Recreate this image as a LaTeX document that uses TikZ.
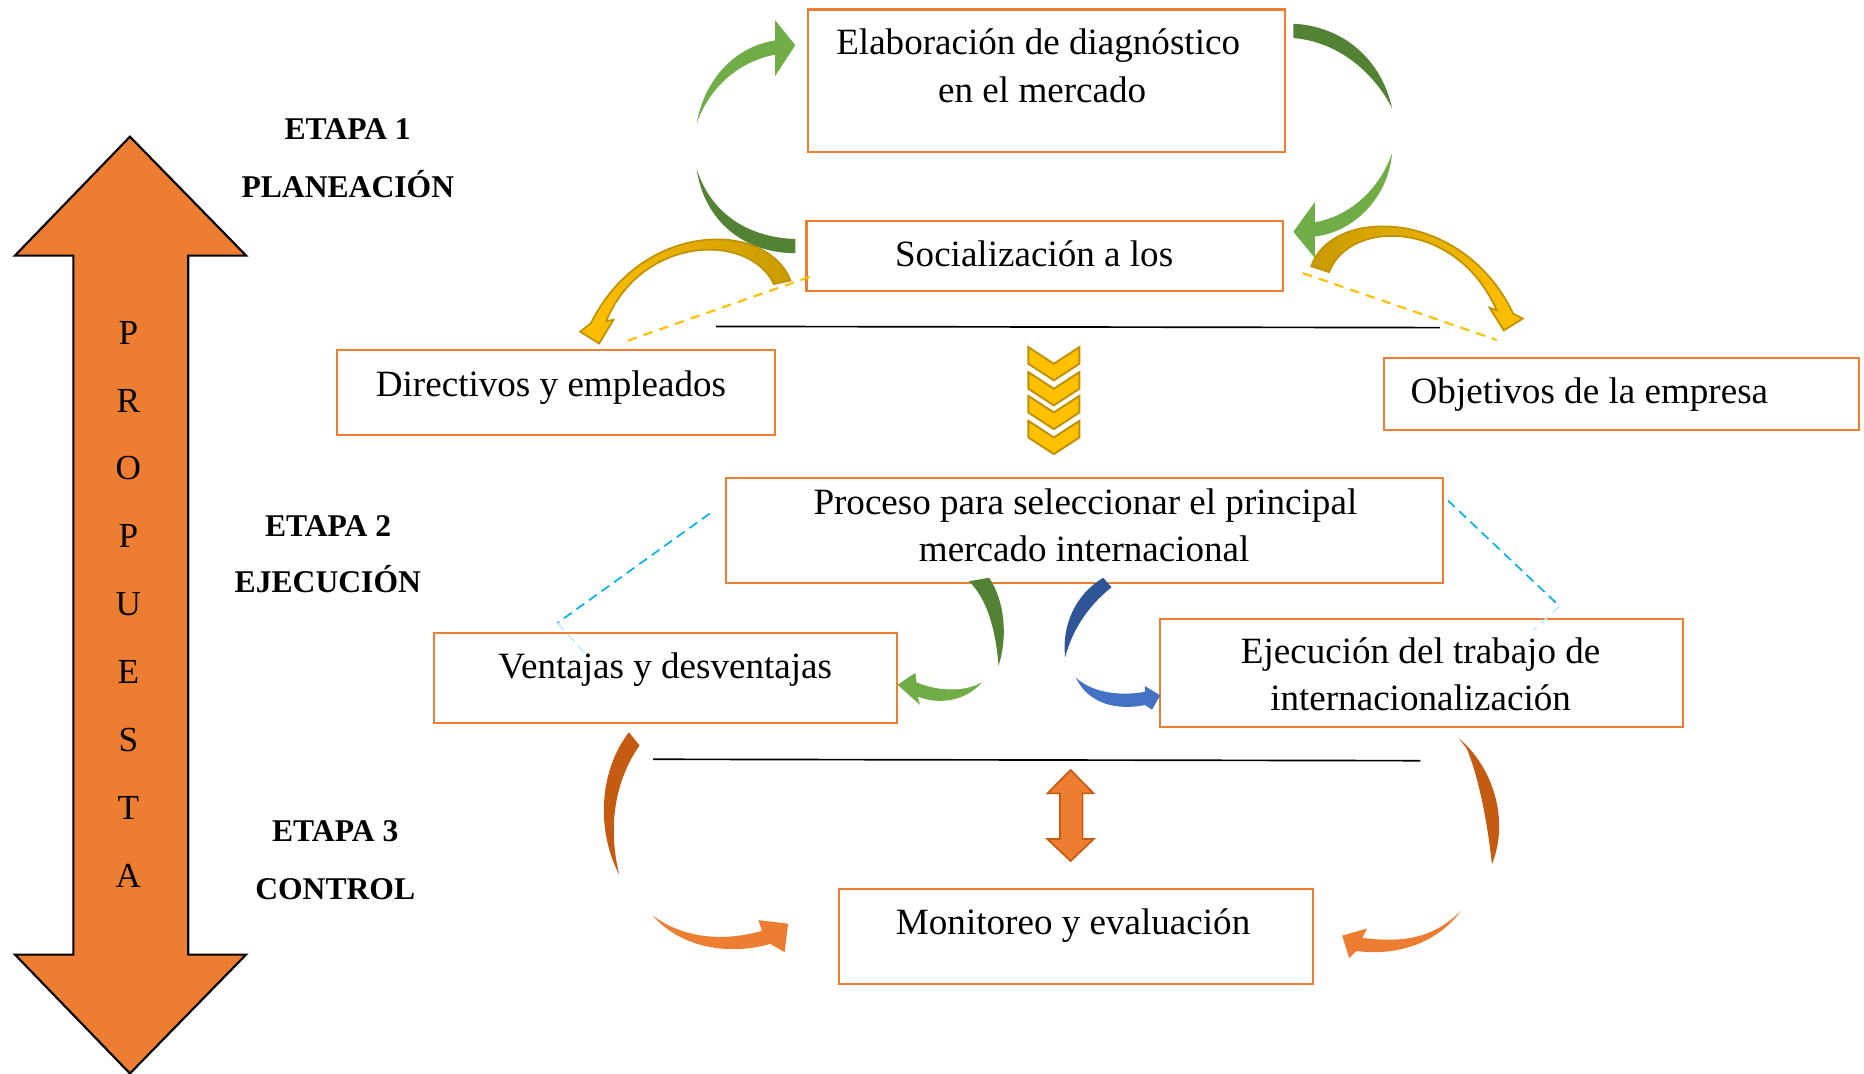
\documentclass[tikz,border=0pt]{standalone}
\usepackage{fontspec}
\setmainfont{Liberation Serif}
\usetikzlibrary{fit}
\definecolor{orB}{HTML}{ED7D31}
\definecolor{dgreen}{HTML}{548235}
\definecolor{lgreen}{HTML}{70AD47}
\definecolor{gold}{HTML}{FFC000}
\definecolor{dgold}{HTML}{BF9000}
\definecolor{mgold}{HTML}{C99A00}
\definecolor{blueD}{HTML}{2F5597}
\definecolor{blueL}{HTML}{4472C4}
\definecolor{brownO}{HTML}{C55A11}
\definecolor{cyanL}{HTML}{00B0F0}
\definecolor{cyanF}{HTML}{C5ECFA}
\begin{document}
\begin{tikzpicture}[x=0.5pt,y=-0.5pt,
 box/.style={draw=orB,line width=0.9pt,inner sep=0pt},
 txt/.style={font=\fontsize{15.6}{20}\selectfont,inner sep=0pt,anchor=base},
 stage/.style={font=\fontsize{13.3}{16}\selectfont\bfseries,inner sep=0pt,anchor=base},
 letter/.style={font=\fontsize{14.8}{16}\selectfont,inner sep=0pt,anchor=base},
 ydash/.style={draw=gold,line width=0.9pt,dash pattern=on 4pt off 3pt},
 cdash/.style={draw=cyanL,line width=0.7pt,dash pattern=on 4pt off 2.5pt},
 cfade/.style={draw=cyanF,line width=0.7pt,dash pattern=on 4pt off 2.5pt},
 hline/.style={draw=black,line width=0.7pt},
 chev/.style={fill=gold,draw=dgold,line width=0.8pt},
 ggold/.style={draw=dgold,line width=0.7pt},
]
\useasboundingbox (0,0) rectangle (1568,903);

% big double arrow PROPUESTA
\filldraw[fill=orB,draw=black,line width=0.9pt] (109.3,115) -- (207,215) -- (158.4,215) -- (158.4,803) -- (207,803) -- (109.3,903) -- (12.6,803) -- (61.7,803) -- (61.7,215) -- (12.6,215) -- cycle;
\foreach \l [count=\i from 0] in {P,R,O,P,U,E,S,T,A}
  \node[letter] (let\i) at (108,{289.5+57.1*\i}) {\l};

% stage labels
\node[stage] (e1) at (292.5,117.5) {ETAPA 1};
\node[stage] (e1b) at (292.6,166.3) {PLANEACIÓN};
\node[stage] (e2) at (276,451.3) {ETAPA 2};
\node[stage] (e2b) at (275.8,498.8) {EJECUCIÓN};
\node[stage] (e3) at (282,707.8) {ETAPA 3};
\node[stage] (e3b) at (282,756.8) {CONTROL};

% boxes
\node[box,fit={(680,8) (1081,128)}] (b1) {};
\node[box,fit={(678.4,185.6) (1079.3,244.5)}] (b2) {};
\node[box,fit={(283.2,294.4) (652,365.9)}] (b3) {};
\node[box,fit={(1164.5,301.4) (1563.8,361.7)}] (b4) {};
\node[box,fit={(610.7,402.4) (1214,490.7)}] (b5) {};
\node[box,fit={(365.3,532.2) (754.6,607.9)}] (b6) {};
\node[box,fit={(975.6,521) (1416,611.3)}] (b7) {};
\node[box,fit={(705.4,748) (1104.6,827.7)}] (b8) {};

% texts
\node[txt] (t1a) at (873.3,46.2) {Elaboración de diagnóstico};
\node[txt] (t1b) at (876.7,86.4) {en el mercado};
\node[txt] (t2) at (869.9,224.4) {Socialización a los};
\node[txt] (t3) at (463.5,333.6) {Directivos y empleados};
\node[txt] (t4) at (1337,339.6) {Objetivos de la empresa};
\node[txt] (t5a) at (913,433.2) {Proceso para seleccionar el principal};
\node[txt] (t5b) at (912,472.4) {mercado internacional};
\node[txt] (t6) at (559.6,570.6) {Ventajas y desventajas};
\node[txt] (t7a) at (1195,558.5) {Ejecución del trabajo de};
\node[txt] (t7b) at (1195,597.5) {internacionalización};
\node[txt] (t8) at (902.7,786.4) {Monitoreo y evaluación};

% horizontal black lines
\coordinate (h1a) at (602.3,274.6); \coordinate (h1b) at (1211.3,275.6);
\coordinate (h2a) at (549.3,638.7); \coordinate (h2b) at (1194.8,639.9);
\draw[hline] (h1a) -- (h1b);
\draw[hline] (h2a) -- (h2b);

% dashed yellow lines
\coordinate (y1a) at (681,233); \coordinate (y1b) at (525.7,287.4);
\coordinate (y2a) at (1096,229.8); \coordinate (y2b) at (1259,286);
\draw[ydash] (y1a) -- (y1b);
\draw[ydash] (y2a) -- (y2b);

% dashed cyan lines
\coordinate (c1a) at (597,432); \coordinate (c1b) at (469,524); \coordinate (c1c) at (495,553);
\coordinate (c2a) at (1218,421); \coordinate (c2b) at (1312,510); \coordinate (c2c) at (1290,530);
\draw[cdash] (c1a) -- (c1b);
\draw[cfade] (c1b) -- (c1c);
\draw[cdash] (c2a) -- (c2b);
\draw[cfade] (c2b) -- (c2c);

% top-left light green arrow (up to box 1)
\fill[lgreen] (586,104) .. controls (592,70) and (615,40) .. (652,34) -- (652,17) -- (669,38) -- (652,64) -- (652,46) .. controls (620,52) and (596,75) .. (586,104) -- cycle;
% left dark green band
\fill[dgreen] (586,142) .. controls (592,185) and (625,213) .. (669,213) -- (669,201) .. controls (630,200) and (598,180) .. (586,142) -- cycle;
% top-right dark green band
\fill[dgreen] (1088,20) .. controls (1130,22) and (1162,50) .. (1171,91) .. controls (1155,60) and (1125,35) .. (1088,32) -- cycle;
% right light green arrow (to box 2)
\fill[lgreen] (1171,129) .. controls (1168,165) and (1140,195) .. (1106,199) -- (1106,217) -- (1088,195) -- (1106,170) -- (1106,187) .. controls (1135,182) and (1160,160) .. (1171,129) -- cycle;

% gold arrow left
\shade[left color=gold,middle color=mgold,right color=mgold,ggold] (665,236) .. controls (645,185) and (540,185) .. (497,272) -- (488,279) -- (504,289) -- (516,269) -- (510,270) .. controls (540,198) and (630,195) .. (651,239) -- cycle;
% gold arrow right
\shade[left color=mgold,middle color=mgold,right color=gold,ggold] (1103,224) .. controls (1120,174) and (1230,174) .. (1273,264) -- (1281,268) -- (1265,278) -- (1253,259) -- (1259,261) .. controls (1225,184) and (1135,184) .. (1118,229) -- cycle;

% chevrons
\foreach \y in {292,313,333,354}
  \filldraw[chev] (865,\y) -- (886.5,{\y+14}) -- (908,\y) -- (908,{\y+14}) -- (886.5,{\y+28}) -- (865,{\y+14}) -- cycle;

% middle green arrow (to Ventajas)
\fill[dgreen] (815,489) -- (832,486) .. controls (845,505) and (848,535) .. (840,560) .. controls (838,535) and (832,505) .. (815,489) -- cycle;
\fill[lgreen] (826,574) .. controls (812,590) and (790,593) .. (772,586) -- (774,593) -- (755,576) -- (770,566) -- (771,574) .. controls (790,582) and (812,582) .. (826,574) -- cycle;

% blue arrow (to Ejecucion)
\fill[blueD] (928,486) -- (935,494) .. controls (915,510) and (902,530) .. (896,553) .. controls (893,525) and (905,500) .. (928,486) -- cycle;
\fill[blueL] (905,570) .. controls (915,592) and (940,598) .. (963,593) -- (969,597) -- (976,585) -- (963,577) -- (963,582) .. controls (940,586) and (918,582) .. (905,570) -- cycle;

% left brown + orange
\fill[brownO] (529,616) -- (538,627) .. controls (515,660) and (512,700) .. (521,736) .. controls (502,700) and (503,650) .. (529,616) -- cycle;
\fill[orB] (549,770) .. controls (570,795) and (610,805) .. (648,794) -- (660,801) -- (663,777) -- (638,774) -- (641,783) .. controls (610,792) and (575,790) .. (549,770) -- cycle;

% right brown + orange
\fill[brownO] (1227,621) .. controls (1256,645) and (1270,690) .. (1255,727) .. controls (1251,690) and (1244,655) .. (1234,630) -- cycle;
\fill[orB] (1229,766) .. controls (1212,790) and (1180,805) .. (1141,800) -- (1135,806) -- (1129,787) -- (1150,781) -- (1146,789) .. controls (1180,793) and (1205,790) .. (1229,766) -- cycle;

% vertical double arrow
\filldraw[fill=orB,draw=brownO,line width=0.7pt] (900.6,647.7) -- (920,667.4) -- (910.7,667.4) -- (910.7,705.8) -- (920,705.8) -- (900.6,724.3) -- (881,705.8) -- (891.7,705.8) -- (891.7,667.4) -- (881,667.4) -- cycle;
\end{tikzpicture}
\end{document}
